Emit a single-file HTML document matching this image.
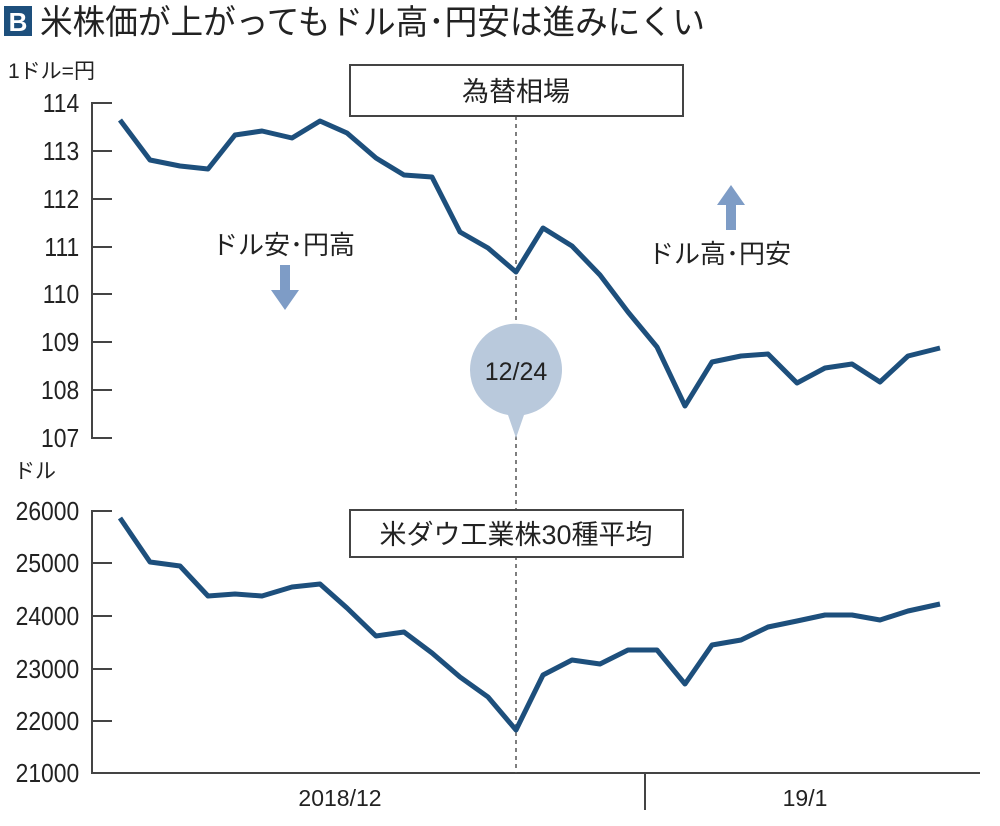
<!DOCTYPE html>
<html><head><meta charset="utf-8"><style>
body{margin:0;background:#fff;}
svg text{font-family:"Liberation Sans","Noto Sans CJK JP",sans-serif;fill:#222;}
</style></head><body>
<svg width="1000" height="821" xmlns="http://www.w3.org/2000/svg">
<rect x="4" y="6" width="28" height="30" fill="#1d4f7c"/>
<text x="18" y="31" font-size="26" font-weight="bold" text-anchor="middle" style="fill:#fff">B</text>
<text x="40" y="34" font-size="34" textLength="665" lengthAdjust="spacingAndGlyphs">米株価が上がってもドル高･円安は進みにくい</text>
<text x="8" y="78" font-size="21">1ドル=円</text>
<text x="14" y="478" font-size="21">ドル</text>
<g font-size="26" text-anchor="end" transform="scale(0.88,1)">
<text x="90" y="112">114</text><text x="90" y="160">113</text><text x="90" y="208">112</text><text x="90" y="256">111</text><text x="90" y="303">110</text><text x="90" y="351">109</text><text x="90" y="399">108</text><text x="90" y="447">107</text>
<text x="90" y="520">26000</text><text x="90" y="572">25000</text><text x="90" y="625">24000</text><text x="90" y="678">23000</text><text x="90" y="730">22000</text><text x="90" y="782">21000</text>
</g>
<g stroke="#444" stroke-width="2" fill="none">
<path d="M112 103H92V438H112"/>
<path d="M92 103H112M92 151H112M92 199H112M92 247H112M92 294H112M92 342H112M92 390H112"/>
<path d="M112 511H92V773H980"/>
<path d="M92 563H112M92 616H112M92 669H112M92 721H112"/>
<path d="M645 773V810"/>
</g>
<line x1="516" y1="100" x2="516" y2="773" stroke="#555" stroke-width="1.5" stroke-dasharray="4,4"/>
<text x="340" y="806" font-size="23" text-anchor="middle">2018/12</text>
<text x="805" y="806" font-size="23" text-anchor="middle">19/1</text>
<rect x="350" y="65" width="333" height="51" fill="#fff" stroke="#444" stroke-width="2"/>
<text x="516" y="101" font-size="27" text-anchor="middle">為替相場</text>
<rect x="350" y="510" width="333" height="47" fill="#fff" stroke="#444" stroke-width="2"/>
<text x="516" y="544" font-size="27" text-anchor="middle">米ダウ工業株30種平均</text>
<path d="M470 370 A46 46 0 1 1 524 415 L516 438 L508 415 A46 46 0 0 1 470 370Z" fill="#b9c9dc"/>
<text x="516" y="380" font-size="25" text-anchor="middle">12/24</text>
<path d="M280 265h10v25h9l-14 20l-14 -20h9z" fill="#7e9cc6"/>
<path d="M731 185l14 20h-9v25h-10v-25h-9z" fill="#7e9cc6"/>
<text x="212" y="254" font-size="26">ドル安･円高</text>
<text x="648" y="263" font-size="26">ドル高･円安</text>
<g fill="none" stroke="#1d4f7c" stroke-width="5" stroke-linejoin="round">
<polyline points="120,120 150,160 180,166 208,169 235,135 262,131 292,138 320,121 347,133 376,158 404,175 432,177 460,232 488,248 516,272 543,228 572,246 600,275 628,312 657,347 685,406 712,362 741,356 768,354 797,383 825,368 852,364 880,382 908,356 940,348"/>
<polyline points="120,518 150,562 180,566 208,596 235,594 262,596 292,587 320,584 347,608 376,636 404,632 432,653 460,677 488,697 516,730 543,675 572,660 600,664 628,650 657,650 685,684 712,645 741,640 768,627 797,621 825,615 852,615 880,620 908,611 940,604"/>
</g>
</svg>
</body></html>
